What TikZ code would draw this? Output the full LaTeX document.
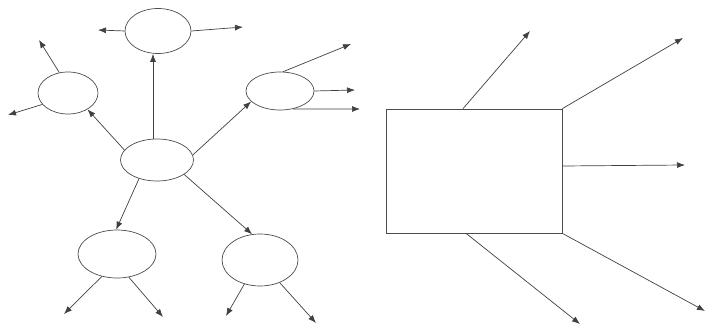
\documentclass[tikz,border=0pt]{standalone}
\usetikzlibrary{shapes.geometric,arrows.meta}
\begin{document}
\begin{tikzpicture}[x=1pt,y=1pt,
  ell/.style={draw=black!70,line width=0.7pt,ellipse,inner sep=0pt},
  box/.style={draw=black!70,line width=0.7pt,rectangle,inner sep=0pt},
  arr/.style={draw=black!75,line width=0.7pt,-{Latex[length=8pt,width=6pt]}}]
\useasboundingbox (0,0) rectangle (707,-326);
% ellipses
\node[ell,minimum width=66pt,minimum height=45pt] (top) at (158,-31) {};
\node[ell,minimum width=60pt,minimum height=42pt] (left) at (68,-93) {};
\node[ell,minimum width=68pt,minimum height=38pt] (right) at (280,-91) {};
\node[ell,minimum width=73pt,minimum height=42pt] (center) at (157,-160) {};
\node[ell,minimum width=78pt,minimum height=48pt] (bl) at (117,-254) {};
\node[ell,minimum width=76pt,minimum height=52pt] (br) at (260,-260) {};
\node[box,minimum width=176pt,minimum height=124pt] (rect) at (474,-171) {};
% free ends
\coordinate (t1) at (98,-30);
\coordinate (t2) at (243,-27);
\coordinate (l1) at (39,-40);
\coordinate (l2) at (8,-115);
\coordinate (r1) at (351,-44);
\coordinate (r2) at (355,-90);
\coordinate (r3) at (360,-109);
\coordinate (b1) at (64,-314);
\coordinate (b2) at (163,-317);
\coordinate (b3) at (226,-316);
\coordinate (b4) at (316,-323);
\coordinate (q1) at (530,-31);
\coordinate (q2) at (683,-38);
\coordinate (q3) at (685,-165);
\coordinate (q4) at (580,-324);
\coordinate (q5) at (705,-311);
% connectors
\draw[arr] (top.west) -- (t1);
\draw[arr] (top.east) -- (t2);
\draw[arr] ([xshift=-4pt]center.north) -- ([xshift=-5pt]top.south);
\draw[arr] (center.163) -- (left.320);
\draw[arr] (center.8) -- (right.200);
\draw[arr] (center.226) -- (bl.92);
\draw[arr] (center.332) -- (br.107);
\draw[arr] (left.113) -- (l1);
\draw[arr] (left.204) -- (l2);
\draw[arr] (right.81) -- (r1);
\draw[arr] (right.east) -- (r2);
\draw[arr] (right.306) -- (r3);
\draw[arr] (bl.236) -- (b1);
\draw[arr] (bl.297) -- (b2);
\draw[arr] (br.237) -- (b3);
\draw[arr] (br.311) -- (b4);
\draw[arr] ([xshift=-11pt]rect.north) -- (q1);
\draw[arr] (rect.north east) -- (q2);
\draw[arr] ([yshift=5pt]rect.east) -- (q3);
\draw[arr] ([xshift=-8pt]rect.south) -- (q4);
\draw[arr] (rect.south east) -- (q5);
\end{tikzpicture}
\end{document}
